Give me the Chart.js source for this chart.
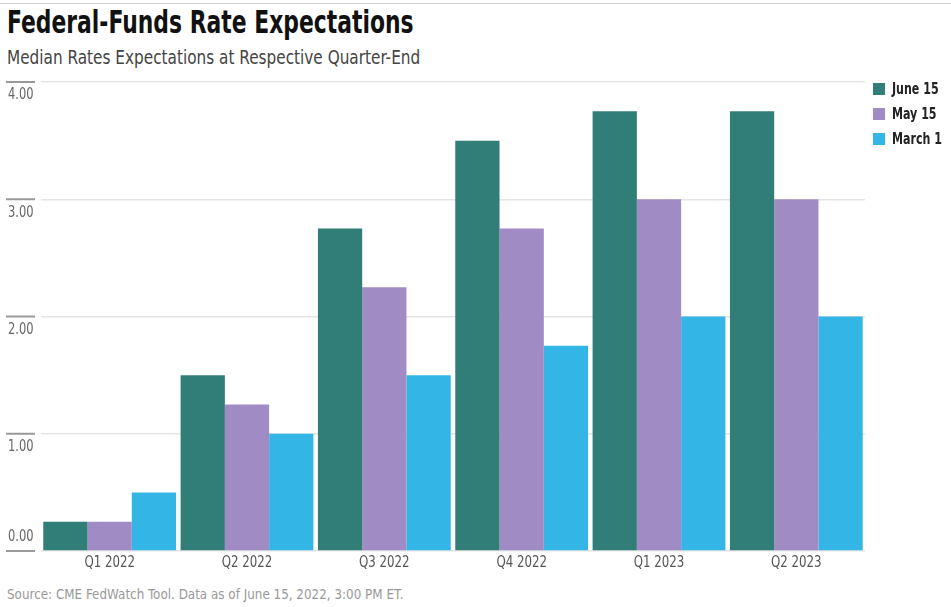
<!DOCTYPE html>
<html>
<head>
<meta charset="utf-8">
<script src="https://cdn.jsdelivr.net/npm/chart.js@4/dist/chart.umd.min.js"></script>
<style>
  body { margin: 0; background: #fff; font-family: "DejaVu Sans Condensed", "Liberation Sans", sans-serif; }
  #wrap { position: relative; width: 951px; height: 607px; overflow: hidden; }
  #topline { position: absolute; left: 0; top: 3px; width: 951px; height: 1px; background: #d0d0d0; }
  .t { position: absolute; left: 7px; white-space: nowrap; transform-origin: 0 0; }
  #title { top: 3px; font-size: 32px; font-weight: bold; color: #111; transform: scaleX(0.76); }
  #sub { top: 45px; font-size: 20px; color: #444; transform: scaleX(0.85); }
  #src { top: 586px; font-size: 14px; color: #999; transform: scaleX(0.95); }
  #box { position: absolute; left: 0; top: 70px; width: 951px; height: 510px; }
  #legend { position: absolute; left: 873px; top: 76px; }
  .lg { display: flex; align-items: center; height: 25px; white-space: nowrap; }
  .sw { width: 12px; height: 12px; margin-right: 7px; }
  .nm { font-size: 15px; font-weight: bold; color: #222; display: inline-block; transform: scaleX(0.82); transform-origin: 0 50%; }
</style>
</head>
<body>
<div id="wrap">
  <div id="topline"></div>
  <div id="title" class="t">Federal-Funds Rate Expectations</div>
  <div id="sub" class="t">Median Rates Expectations at Respective Quarter-End</div>
  <div id="box"><canvas id="c"></canvas></div>
  <div id="legend"></div>
  <div id="src" class="t">Source: CME FedWatch Tool. Data as of June 15, 2022, 3:00 PM ET.</div>
</div>
<script>
let cats = ['Q1 2022', 'Q2 2022', 'Q3 2022', 'Q4 2022', 'Q1 2023', 'Q2 2023'];
let june15 = [0.25, 1.5, 2.75, 3.5, 3.75, 3.75];
let may15 = [0.25, 1.25, 2.25, 2.75, 3.0, 3.0];
let march1 = [0.5, 1.0, 1.5, 1.75, 2.0, 2.0];
let yTicks = [0, 1, 2, 3, 4];

let names = ['June 15', 'May 15', 'March 1'];
let cols = ['#317d78', '#a08bc4', '#33b6e5'];
let vals = [june15, may15, march1];
let fam = '"DejaVu Sans Condensed", "Liberation Sans", sans-serif';

// axis labels drawn narrow to mimic the condensed font
let axisLabels = {
    id: 'axisLabels',
    afterDraw(chart) {
        let c = chart.ctx;
        let y = chart.scales.y;
        let x = chart.scales.x;
        c.save();
        c.fillStyle = '#666';
        yTicks.forEach(v => {
            let py = y.getPixelForValue(v);
            c.strokeStyle = '#999';
            c.lineWidth = 2;
            c.beginPath();
            c.moveTo(6, py);
            c.lineTo(35, py);
            c.stroke();
            c.save();
            c.translate(8, v === 0 ? py - 6 : py + 6);
            c.scale(0.85, 1);
            c.font = '15px ' + fam;
            c.textBaseline = v === 0 ? 'bottom' : 'top';
            c.fillText(v.toFixed(2), 0, 0);
            c.restore();
        });
        cats.forEach((lab, i) => {
            c.save();
            c.translate(x.getPixelForValue(i), chart.chartArea.bottom + 4);
            c.scale(0.82, 1);
            c.font = '16px ' + fam;
            c.fillStyle = '#555';
            c.textAlign = 'center';
            c.textBaseline = 'top';
            c.fillText(lab, 0, 0);
            c.restore();
        });
        c.restore();
    }
};

let ch = new Chart(document.getElementById('c'), {
    type: 'bar',
    data: {
        labels: cats,
        datasets: names.map((n, i) => ({
            label: n,
            data: vals[i],
            backgroundColor: cols[i],
            barPercentage: 1.0,
            categoryPercentage: 0.967
        }))
    },
    options: {
        responsive: true,
        maintainAspectRatio: false,
        animation: false,
        layout: { padding: { left: 41, right: 86, top: 12, bottom: 21 } },
        plugins: { legend: { display: false }, tooltip: { enabled: false } },
        scales: {
            x: {
                grid: { display: false },
                border: { display: false },
                ticks: { display: false }
            },
            y: {
                min: 0, max: 4,
                ticks: { display: false, stepSize: 1 },
                border: { display: false },
                grid: { color: '#e4e4e4', lineWidth: 1.5, drawTicks: false }
            }
        }
    },
    plugins: [axisLabels]
});

let lg = document.getElementById('legend');
names.forEach((n, i) => {
    lg.innerHTML += '<div class="lg"><div class="sw" style="background:' + cols[i] + '"></div><span class="nm">' + n + '</span></div>';
});
</script>
</body>
</html>
